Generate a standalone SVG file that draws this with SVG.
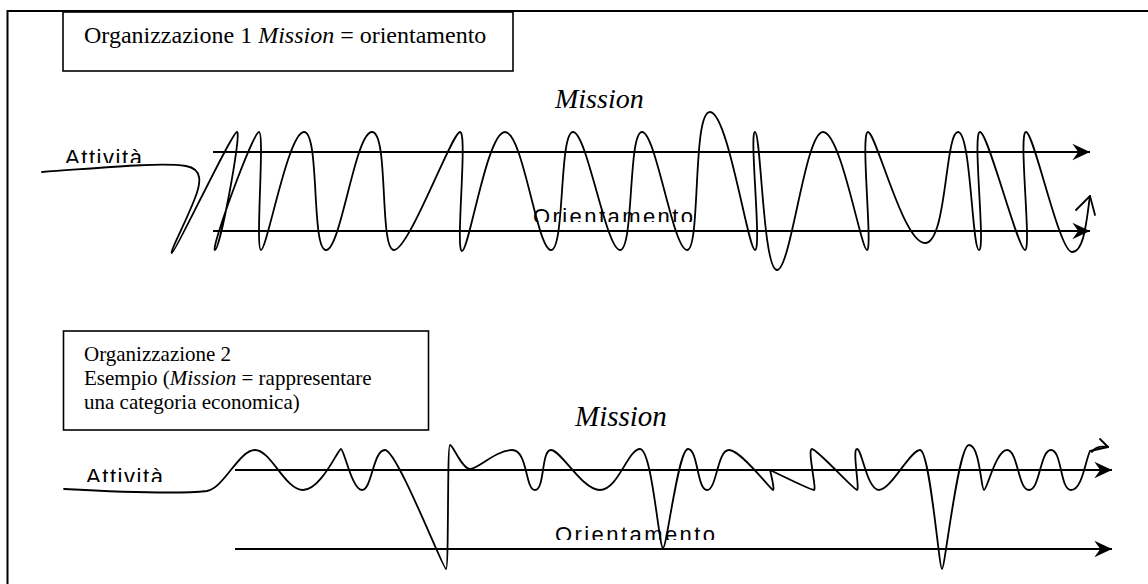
<svg xmlns="http://www.w3.org/2000/svg" width="1148" height="584" viewBox="0 0 1148 584">
<style>
.frame{fill:none;stroke:#000;stroke-width:2}
.box{fill:#fff;stroke:#000;stroke-width:1.6}
.serif{font-family:"Liberation Serif","Times New Roman",serif;fill:#000}
.sans{font-family:"Liberation Sans",Arial,sans-serif;fill:#000;font-size:22px}
.axis{fill:none;stroke:#000;stroke-width:2;marker-end:url(#ah)}
.wave{fill:none;stroke:#000;stroke-width:1.8;stroke-linejoin:round;stroke-linecap:round}
</style>
<defs>
<marker id="ah" markerUnits="userSpaceOnUse" markerWidth="20" markerHeight="20" viewBox="-16 -8 17 16" refX="0" refY="0" orient="auto">
<path d="M0,0 L-15,-7 L-10,0 L-15,7 Z" fill="#000"/>
</marker>
<clipPath id="c1"><rect x="55" y="140" width="100" height="23"/></clipPath>
<clipPath id="c2"><rect x="76" y="458" width="100" height="24"/></clipPath>
<clipPath id="c3"><rect x="525" y="198" width="180" height="24"/></clipPath>
<clipPath id="c4"><rect x="545" y="516" width="180" height="24"/></clipPath>
</defs>
<rect width="1148" height="584" fill="#fff"/>
<g id="frame">
<path class="frame" d="M7.5,584 L7.5,11 L1148,11"/>
</g>
<g id="box1">
<rect class="box" x="63" y="12" width="450" height="59"/>
<text class="serif" x="84" y="43" font-size="24">Organizzazione 1 <tspan font-style="italic">Mission</tspan> = orientamento</text>
</g>
<g id="box2">
<rect class="box" x="63.5" y="331" width="365" height="99"/>
<text class="serif" font-size="21"><tspan x="84" y="361">Organizzazione 2</tspan><tspan x="84" y="385">Esempio (<tspan font-style="italic">Mission</tspan> = rappresentare</tspan><tspan x="84" y="409">una categoria economica)</tspan></text>
</g>
<g id="connectors">
<line class="axis" x1="213" y1="152" x2="1090" y2="152"/>
<line class="axis" x1="213" y1="231" x2="1090" y2="231"/>
<line class="axis" x1="235" y1="470" x2="1112" y2="470"/>
<line class="axis" x1="235" y1="549" x2="1112" y2="549"/>
<path id="wave1" class="wave" d="M42,172 C100,168 160,162 186,166 C203,169 201,183 195,198 C186,222 169,253 172,253
C175,253 232,132 237,132
C242,132 220,250 215,250
C210,250 253,132 259,132
C265,132 255,250 261,250
C267,250 288,132 304,132
C320,132 311,250 326,250
C341,250 355,132 372,132
C389,132 379,250 394,250
C409,250 452,132 460,132
C468,132 455,251 462,251
C469,251 487,132 505,132
C523,132 537,250 551,250
C565,250 559,132 573,132
C587,132 606,250 620,250
C634,250 628,132 642,132
C656,132 673,250 687,250
C701,250 692,112 710,112
C728,112 748,250 755,250
C762,250 749,132 755,132
C761,132 763,270 777,270
C791,270 805,132 823,132
C841,132 861,250 867,250
C873,250 860,132 868,132
C876,132 903,243 925,243
C947,243 945,132 958,132
C971,132 972,250 979,250
C986,250 972,132 980,132
C988,132 1018,250 1025,250
C1032,250 1018,132 1026,132
C1034,132 1059,252 1072,252
C1085,252 1087,215 1090,196"/>
<path class="wave" d="M1076,210 L1090,196 L1095,215"/>
<path id="wave2" class="wave" d="M64,489 C120,492 180,494 207,491 C224,488 239,450 255,450
C271,450 285,490 303,490
C321,490 338,449 341,449
C344,449 352,490 362,490
C372,490 373,450 385,450
C397,450 443,569 446,569
C449,569 447,445 450,445
C453,445 462,469 470,469
C478,469 496,450 512,450
C528,450 525,490 535,490
C545,490 541,450 551,450
C561,450 582,490 600,490
C618,490 628,449 640,449
C652,449 659,548 663,548
C667,548 678,449 688,449
C698,449 697,490 707,490
C717,490 717,450 729,450
C741,450 771,490 773,490
C775,490 770,470 770,470
C770,470 811,490 814,490
C817,490 807,449 812,449
C817,449 854,490 857,490
C860,490 852,449 857,449
C862,449 867,490 879,490
C891,490 910,450 920,450
C930,450 939,569 942,569
C945,569 958,445 969,445
C980,445 981,490 984,490
C987,490 996,450 1007,450
C1018,450 1018,490 1029,490
C1040,490 1040,450 1051,450
C1062,450 1060,490 1071,490
C1082,490 1085,462 1090,451 L1108,447"/>
<path class="wave" d="M1100,439 L1108,447 M1108,447 Q1096,445 1092,452"/>
</g>
<g id="labels">
<text class="serif" x="555" y="108" font-size="28" font-style="italic">Mission</text>
<text class="serif" x="575" y="426" font-size="29" font-style="italic">Mission</text>
<g clip-path="url(#c1)"><text class="sans" x="65" y="165" textLength="77" lengthAdjust="spacing">Attività</text></g>
<g clip-path="url(#c2)"><text class="sans" x="86" y="484" textLength="77" lengthAdjust="spacing">Attività</text></g>
<g clip-path="url(#c3)"><text class="sans" x="533" y="224" textLength="160" lengthAdjust="spacing">Orientamento</text></g>
<g clip-path="url(#c4)"><text class="sans" x="555" y="542" textLength="160" lengthAdjust="spacing">Orientamento</text></g>
</g>
</svg>
